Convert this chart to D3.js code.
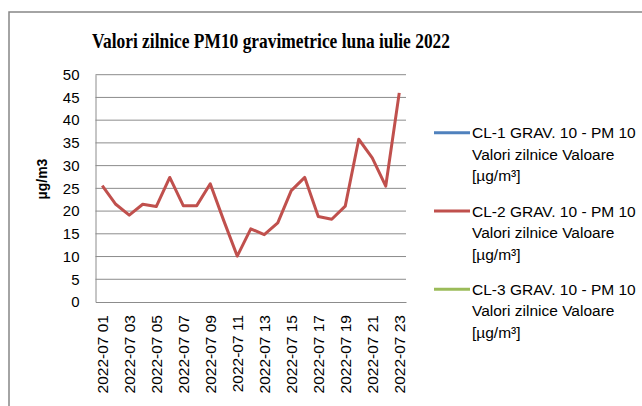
<!DOCTYPE html>
<html>
<head>
<meta charset="utf-8">
<script src="https://cdn.jsdelivr.net/npm/d3@7"></script>
<style>
  body { margin: 0; background: #fff; }
  svg { display: block; }
</style>
</head>
<body>
<div id="chart"></div>
<script>
  // data
  var days = d3.range(1, 24).map(function(d) { return "2022-07 " + (d < 10 ? "0" + d : "" + d); });
  var cl2 = [25.6, 21.5, 19.1, 21.5, 21.0, 27.4, 21.2, 21.2, 26.0, 17.9, 10.1, 16.1, 14.8, 17.4, 24.5, 27.4, 18.8, 18.2, 21.1, 35.8, 31.7, 25.5, 46.0];
  var yTicks = [0, 5, 10, 15, 20, 25, 30, 35, 40, 45, 50];
  var seriesNames = ["CL-1 GRAV. 10 - PM 10", "CL-2 GRAV. 10 - PM 10", "CL-3 GRAV. 10 - PM 10"];
  var seriesColors = ["#4f81bd", "#c0504d", "#9bbb59"];

  var w = 642, h = 406;
  var plotL = 95.5, plotR = 406, plotT = 74.7, plotB = 302;

  var svg = d3.select("#chart").append("svg")
    .attr("width", w)
    .attr("height", h);

  // outer chart frame
  svg.append("rect")
    .attr("x", 9).attr("y", 12)
    .attr("width", 660).attr("height", 420)
    .attr("fill", "none")
    .attr("stroke", "#868686")
    .attr("stroke-width", 1.5);

  svg.append("text")
    .attr("x", 92).attr("y", 48)
    .attr("font-family", "Liberation Serif")
    .attr("font-weight", "bold")
    .attr("font-size", "21.5px")
    .attr("textLength", 358)
    .attr("lengthAdjust", "spacingAndGlyphs")
    .text("Valori zilnice PM10 gravimetrice luna iulie 2022");

  var x = d3.scaleBand().domain(days).range([plotL, plotR]);
  var y = d3.scaleLinear().domain([0, 50]).range([plotB, plotT]);

  // gridlines
  svg.append("g")
    .selectAll("line")
    .data(yTicks.slice(1))
    .enter().append("line")
    .attr("x1", plotL).attr("x2", plotR)
    .attr("y1", function(d) { return y(d); })
    .attr("y2", function(d) { return y(d); })
    .attr("stroke", "#8c8c8c")
    .attr("stroke-width", 1);

  var yAxis = svg.append("g")
    .attr("transform", "translate(" + plotL + ",0)")
    .call(d3.axisLeft(y).tickValues(yTicks).tickSize(0).tickPadding(16));
  yAxis.select(".domain").attr("stroke", "#8c8c8c");
  yAxis.selectAll("text")
    .attr("font-family", "Liberation Sans")
    .attr("font-size", "15px")
    .attr("fill", "#000");

  var xAxis = svg.append("g")
    .attr("transform", "translate(0," + plotB + ")")
    .call(d3.axisBottom(x)
      .tickValues(days.filter(function(d, i) { return i % 2 === 0; }))
      .tickSize(0));
  xAxis.select(".domain").attr("stroke", "#8c8c8c");
  xAxis.selectAll("text")
    .attr("font-family", "Liberation Sans")
    .attr("font-size", "15.5px")
    .attr("fill", "#000")
    .attr("text-anchor", "end")
    .attr("dy", "0.35em")
    .attr("transform", "translate(0,13) rotate(-90)")
    .attr("x", 0).attr("y", 0);

  svg.append("text")
    .attr("transform", "translate(47,179) rotate(-90)")
    .attr("text-anchor", "middle")
    .attr("font-family", "Liberation Sans")
    .attr("font-weight", "bold")
    .attr("font-size", "14px")
    .text("µg/m3");

  var line = d3.line()
    .x(function(d, i) { return x(days[i]) + x.bandwidth() / 2; })
    .y(function(d) { return y(d); });

  svg.append("path")
    .datum(cl2)
    .attr("d", line)
    .attr("fill", "none")
    .attr("stroke", seriesColors[1])
    .attr("stroke-width", 3)
    .attr("stroke-linejoin", "round");

  // legend
  var legend = svg.append("g")
    .selectAll("g")
    .data(seriesNames)
    .enter().append("g")
    .attr("transform", function(d, i) { return "translate(0," + (132.7 + i * 78.3) + ")"; });

  legend.append("line")
    .attr("x1", 434).attr("x2", 470)
    .attr("stroke", function(d, i) { return seriesColors[i]; })
    .attr("stroke-width", 3);

  var lt = legend.append("text")
    .attr("font-family", "Liberation Sans")
    .attr("font-size", "15.5px")
    .attr("fill", "#000");
  lt.append("tspan").attr("x", 472).attr("y", 5.5).text(function(d) { return d; });
  lt.append("tspan").attr("x", 472).attr("y", 27).text("Valori zilnice Valoare");
  lt.append("tspan").attr("x", 472).attr("y", 48.5).text("[µg/m³]");
</script>
</body>
</html>
